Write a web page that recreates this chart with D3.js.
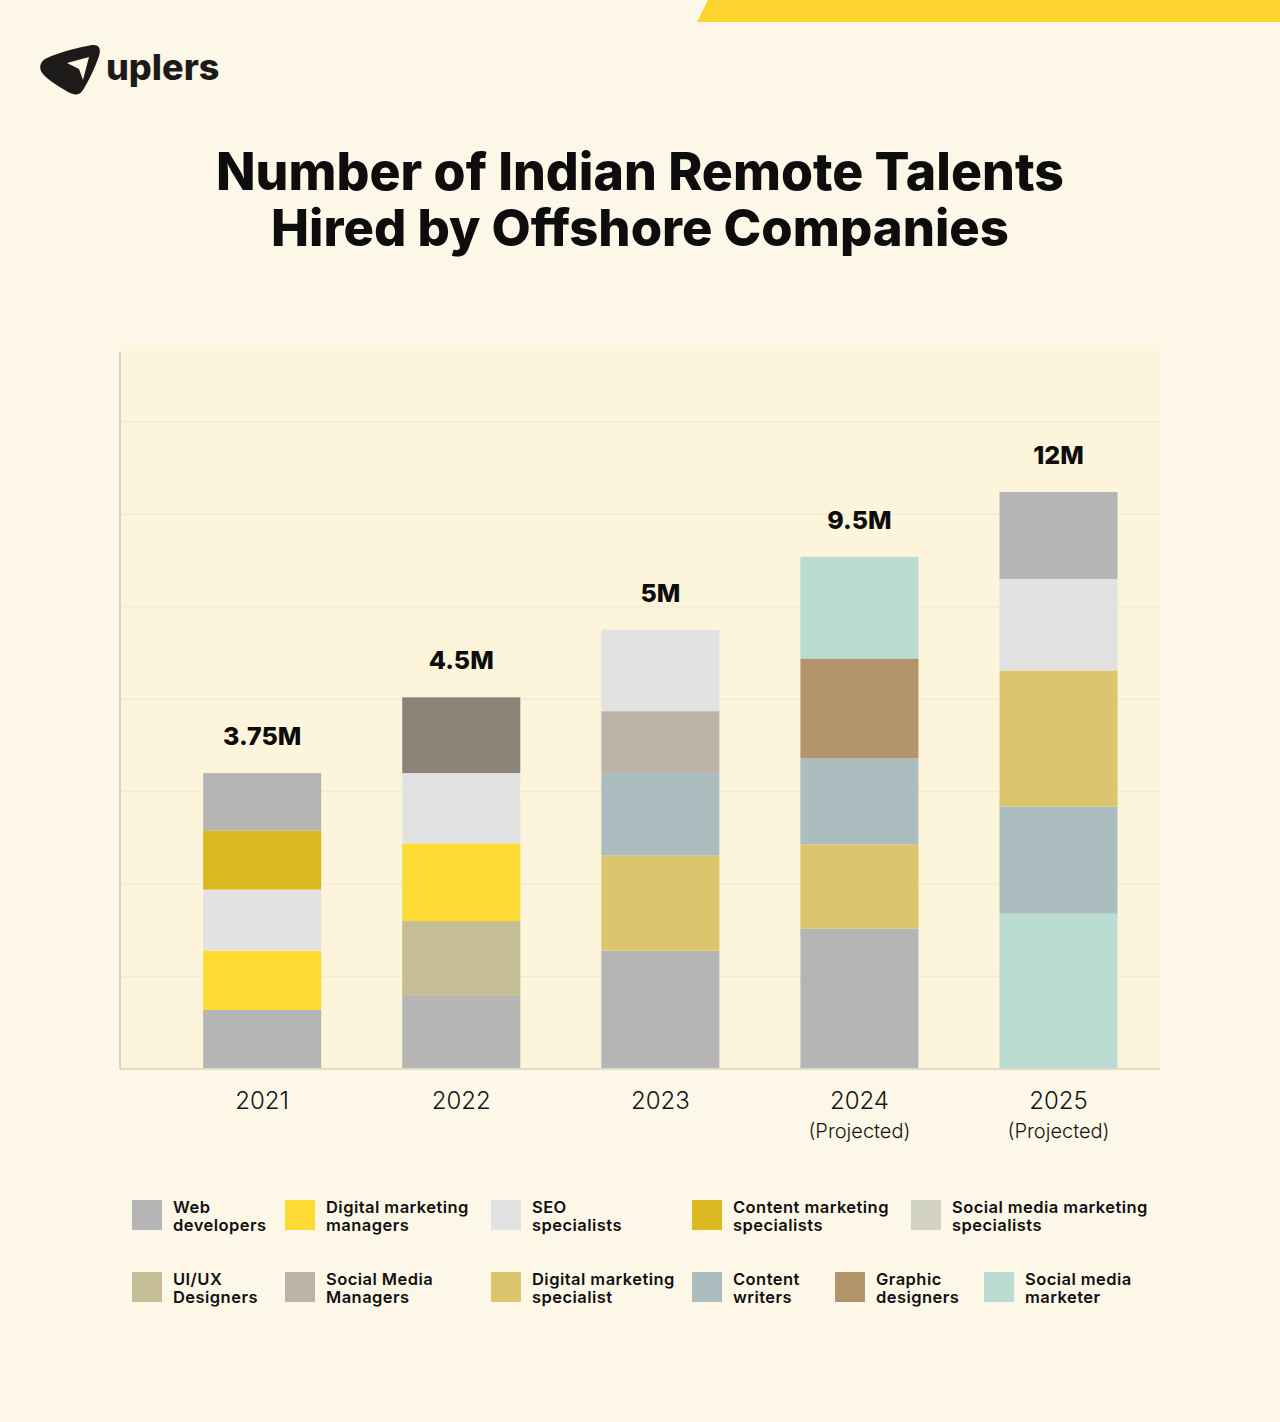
<!DOCTYPE html>
<html>
<head>
<meta charset="utf-8">
<script src="https://cdn.jsdelivr.net/npm/d3@7"></script>
<style>
  html, body { margin: 0; padding: 0; background: #fcf7e7; }
  svg { display: block; }
</style>
</head>
<body>
<svg id="chart" width="1280" height="1422"></svg>
<script>
// ---------------- DATA ----------------
const titleLines = ["Number of Indian Remote Talents", "Hired by Offshore Companies"];
const years = ["2021", "2022", "2023", "2024", "2025"];
const yearNotes = ["", "", "", "(Projected)", "(Projected)"];
const totals = ["3.75M", "4.5M", "5M", "9.5M", "12M"];

const categories = [
  "Web developers", "Digital marketing managers", "SEO specialists",
  "Content marketing specialists", "Social media marketing specialists",
  "UI/UX Designers", "Social Media Managers", "Digital marketing specialist",
  "Content writers", "Graphic designers", "Social media marketer", "Other"
];
const categoryColors = [
  "#b5b5b5", "#fedb33", "#e2e2e2",
  "#dcb920", "#d3d3c5",
  "#c5bd95", "#bdb3a9", "#dbc66d",
  "#abbdbf", "#b3956b", "#b9ddd2", "#8c8479"
];
// legend rows (two-line labels)
const legendRow1 = [
  ["Web", "developers"], ["Digital marketing", "managers"], ["SEO", "specialists"],
  ["Content marketing", "specialists"], ["Social media marketing", "specialists"]
];
const legendRow1Cats = [0, 1, 2, 3, 4];
const legendRow2 = [
  ["UI/UX", "Designers"], ["Social Media", "Managers"], ["Digital marketing", "specialist"],
  ["Content", "writers"], ["Graphic", "designers"], ["Social media", "marketer"]
];
const legendRow2Cats = [5, 6, 7, 8, 9, 10];

// stacked segments, bottom to top (values in chart grid units)
const segments2021 = ["Web developers", "Digital marketing managers", "SEO specialists", "Content marketing specialists", "Web developers"];
const values2021   = [0.64, 0.64, 0.66, 0.64, 0.62];
const segments2022 = ["Web developers", "UI/UX Designers", "Digital marketing managers", "SEO specialists", "Other"];
const values2022   = [0.79, 0.81, 0.84, 0.76, 0.82];
const segments2023 = ["Web developers", "Digital marketing specialist", "Content writers", "Social Media Managers", "SEO specialists"];
const values2023   = [1.28, 1.03, 0.89, 0.67, 0.88];
const segments2024 = ["Web developers", "Digital marketing specialist", "Content writers", "Graphic designers", "Social media marketer"];
const values2024   = [1.52, 0.91, 0.93, 1.08, 1.10];
const segments2025 = ["Social media marketer", "Content writers", "Digital marketing specialist", "SEO specialists", "Web developers"];
const values2025   = [1.68, 1.16, 1.47, 0.99, 0.94];

const gridTicks = [1, 2, 3, 4, 5, 6, 7];
const yMax = 7.83;

// ---------------- DRAW ----------------
const svg = d3.select("#chart");
const FONT = "Inter, 'Noto Sans', sans-serif";
const color = d3.scaleOrdinal().domain(categories).range(categoryColors);

const segNames = [segments2021, segments2022, segments2023, segments2024, segments2025];
const segVals  = [values2021, values2022, values2023, values2024, values2025];

// page background
svg.append("rect").attr("width", 1280).attr("height", 1422).attr("fill", "#fcf7e7");

// top yellow stripe
svg.append("path")
  .attr("d", "M708,0 L1280,0 L1280,22 L697,22 Z")
  .attr("fill", "#fed42e");

// logo
const logo = svg.append("g");
logo.append("path")
  .attr("d", "M47,58 C60,52 80,47 92,45 C100,44 101,50 99,56 C95,68 88,82 83,90 C79,96 74,95 68,92 C58,86 48,80 43,74 C38,68 40,61 47,58 Z")
  .attr("fill", "#1d1b1a");
logo.append("path")
  .attr("d", "M67,63 L89,57 L83,80 L79,69 Z")
  .attr("fill", "#fcf7e7");
svg.append("text")
  .attr("x", 106).attr("y", 80)
  .attr("font-family", FONT).attr("font-weight", 800).attr("font-size", 36)
  .attr("fill", "#1d1b1a")
  .text("uplers");

// title
const titleTargets = [848, 738];
const titleBase = [190, 246];
titleLines.forEach((t, i) => {
  const tx = svg.append("text")
    .attr("x", 640).attr("y", titleBase[i])
    .attr("text-anchor", "middle")
    .attr("font-family", FONT).attr("font-weight", 800).attr("font-size", 48)
    .attr("fill", "#0d0d0d")
    .text(t);
  const w = tx.node().getComputedTextLength();
  tx.attr("font-size", 48 * titleTargets[i] / w);
});

// plot area
const plot = { left: 120, right: 1160, top: 345, bottom: 1069 };
svg.append("rect")
  .attr("x", plot.left).attr("y", plot.top)
  .attr("width", plot.right - plot.left).attr("height", plot.bottom - plot.top)
  .attr("rx", 8)
  .attr("fill", "#fcf5dc");

const y = d3.scaleLinear().domain([0, yMax]).range([plot.bottom, plot.top]);
const x = d3.scaleBand().domain(years).range([162.6, 1158.1]).paddingInner(0.407).paddingOuter(0.2037);

// gridlines
svg.append("g").selectAll("line").data(gridTicks).join("line")
  .attr("x1", plot.left).attr("x2", plot.right)
  .attr("y1", d => y(d)).attr("y2", d => y(d))
  .attr("stroke", "#f4ecd2").attr("stroke-width", 1.5);

// bars
years.forEach((yr, i) => {
  let cum = 0;
  const stacked = segVals[i].map((v, j) => {
    const s = { name: segNames[i][j], y0: cum, y1: cum + v };
    cum += v;
    return s;
  });
  const g = svg.append("g");
  g.selectAll("rect").data(stacked).join("rect")
    .attr("x", x(yr))
    .attr("width", x.bandwidth())
    .attr("y", d => y(d.y1))
    .attr("height", d => y(d.y0) - y(d.y1))
    .attr("fill", d => color(d.name));
  // total label
  svg.append("text")
    .attr("x", x(yr) + x.bandwidth() / 2)
    .attr("y", y(cum) - 28)
    .attr("text-anchor", "middle")
    .attr("font-family", FONT).attr("font-weight", 800).attr("font-size", 25)
    .attr("fill", "#0d0d0d")
    .text(totals[i]);
});

// axes lines
svg.append("line")
  .attr("x1", plot.left).attr("x2", plot.left)
  .attr("y1", 352).attr("y2", plot.bottom)
  .attr("stroke", "#d9d3bf").attr("stroke-width", 2);
svg.append("line")
  .attr("x1", plot.left).attr("x2", plot.right)
  .attr("y1", plot.bottom).attr("y2", plot.bottom)
  .attr("stroke", "#e2dcc7").attr("stroke-width", 2);

// x labels
years.forEach((yr, i) => {
  const cx = x(yr) + x.bandwidth() / 2;
  svg.append("text")
    .attr("x", cx).attr("y", 1109)
    .attr("text-anchor", "middle")
    .attr("font-family", FONT).attr("font-weight", 300).attr("font-size", 24)
    .attr("fill", "#151515")
    .text(yr);
  if (yearNotes[i]) {
    svg.append("text")
      .attr("x", cx).attr("y", 1138)
      .attr("text-anchor", "middle")
      .attr("font-family", FONT).attr("font-weight", 300).attr("font-size", 20)
      .attr("fill", "#151515")
      .text(yearNotes[i]);
  }
});

// legend
const row1X = [132, 285, 491, 692, 911];
const row2X = [132, 285, 491, 692, 835, 984];
function drawLegendRow(labels, cats, xs, top) {
  labels.forEach((lines, i) => {
    svg.append("rect")
      .attr("x", xs[i]).attr("y", top)
      .attr("width", 30).attr("height", 30)
      .attr("fill", categoryColors[cats[i]]);
    const t = svg.append("text")
      .attr("font-family", FONT).attr("font-weight", 600).attr("font-size", 16.5)
      .attr("letter-spacing", 0.45)
      .attr("fill", "#111");
    lines.forEach((ln, k) => {
      t.append("tspan").attr("x", xs[i] + 41).attr("y", top + 13 + k * 18).text(ln);
    });
  });
}
drawLegendRow(legendRow1, legendRow1Cats, row1X, 1200);
drawLegendRow(legendRow2, legendRow2Cats, row2X, 1272);
</script>
</body>
</html>
